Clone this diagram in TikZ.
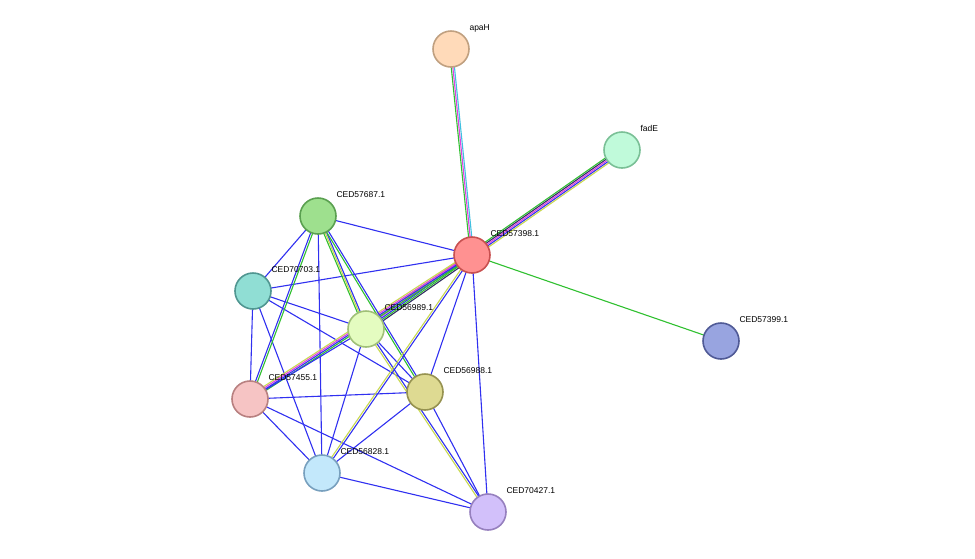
\documentclass[tikz,border=0pt]{standalone}
\usepackage{fontspec}
\setmainfont{Liberation Sans}
\usetikzlibrary{calc}
\definecolor{eb}{HTML}{3030F0}
\definecolor{eg}{HTML}{30C030}
\definecolor{ey}{HTML}{C8D850}
\definecolor{em}{HTML}{E040E0}
\definecolor{ec}{HTML}{40C0E0}
\definecolor{ek}{HTML}{303060}
\tikzset{prot/.style={circle,minimum size=36pt,inner sep=0pt,line width=1.6pt},
lab/.style={anchor=west,font=\fontsize{8.5}{10}\selectfont},
ed/.style={line width=1.1pt}}
\newcommand\medge[3]{\foreach \c/\o in {#3}{\draw[ed,\c] ($(#1)!\o pt!90:(#2)$) -- ($(#2)!\o pt!-90:(#1)$);}}
\begin{document}
\begin{tikzpicture}[x=1pt,y=-1pt]
\useasboundingbox (0,0) rectangle (975,558);
\coordinate (apaH) at (451,49);
\coordinate (fadE) at (622,150);
\coordinate (n687) at (318,216);
\coordinate (n398) at (472,255);
\coordinate (n703) at (253,291);
\coordinate (n989) at (366,329);
\coordinate (n399) at (721,341);
\coordinate (n455) at (250,399);
\coordinate (n988) at (425,392);
\coordinate (n828) at (322,473);
\coordinate (n427) at (488,512);
% blue edges
\foreach \a/\b in {n687/n398,n687/n703,n687/n828,n703/n398,n703/n989,n703/n988,n703/n455,n703/n828,n989/n828,n989/n988,n455/n988,n455/n828,n455/n427,n988/n828,n988/n427,n398/n988,n398/n427,n828/n427}
 \draw[ed,eb] (\a) -- (\b);
\medge{apaH}{n398}{eg/-1.6,em/0,ec/1.6}
\medge{fadE}{n398}{eg/-3,ek/-1.5,em/0,eb/1.5,ey/3}
\medge{n398}{n399}{eg/0}
\medge{n398}{n989}{ey/-3,em/-1.5,eb/0,eg/1.5,ek/3}
\medge{n398}{n455}{ey/-3,em/-1.5,eb/0,eg/1.5}
\medge{n687}{n989}{eg/-1.5,ey/0,eb/1.5}
\medge{n687}{n988}{eg/-1,eb/1}
\medge{n687}{n455}{eb/-1,eg/1}
\medge{n989}{n427}{ey/-1,eb/1}
\medge{n398}{n828}{ey/-1,eb/1}
\medge{n989}{n455}{eb/0}
% nodes
\node[prot,fill={rgb,255:red,255;green,218;blue,185},draw={rgb,255:red,192;green,160;blue,128}] (a) at (apaH) {};
\node[prot,fill={rgb,255:red,192;green,250;blue,218},draw={rgb,255:red,122;green,192;blue,150}] (b) at (fadE) {};
\node[prot,fill={rgb,255:red,158;green,224;blue,142},draw={rgb,255:red,90;green,160;blue,80}] (c) at (n687) {};
\node[prot,fill={rgb,255:red,255;green,145;blue,145},draw={rgb,255:red,200;green,80;blue,80}] (d) at (n398) {};
\node[prot,fill={rgb,255:red,144;green,222;blue,212},draw={rgb,255:red,80;green,150;blue,145}] (e) at (n703) {};
\node[prot,fill={rgb,255:red,228;green,252;blue,192},draw={rgb,255:red,160;green,192;blue,120}] (f) at (n989) {};
\node[prot,fill={rgb,255:red,152;green,164;blue,224},draw={rgb,255:red,80;green,90;blue,150}] (g) at (n399) {};
\node[prot,fill={rgb,255:red,246;green,196;blue,196},draw={rgb,255:red,184;green,128;blue,128}] (h) at (n455) {};
\node[prot,fill={rgb,255:red,222;green,218;blue,146},draw={rgb,255:red,150;green,146;blue,80}] (i) at (n988) {};
\node[prot,fill={rgb,255:red,195;green,232;blue,251},draw={rgb,255:red,120;green,160;blue,190}] (j) at (n828) {};
\node[prot,fill={rgb,255:red,210;green,192;blue,250},draw={rgb,255:red,150;green,128;blue,190}] (k) at (n427) {};
% labels
\node[lab] (la) at (466,28) {apaH};
\node[lab] (lb) at (637,128) {fadE};
\node[lab] (lc) at (333,195) {CED57687.1};
\node[lab] (ld) at (487,234) {CED57398.1};
\node[lab] (le) at (268,270) {CED70703.1};
\node[lab] (lf) at (381,308) {CED56989.1};
\node[lab] (lg) at (736,320) {CED57399.1};
\node[lab] (lh) at (265,378) {CED57455.1};
\node[lab] (li) at (440,371) {CED56988.1};
\node[lab] (lj) at (337,452) {CED56828.1};
\node[lab] (lk) at (503,491) {CED70427.1};
\end{tikzpicture}
\end{document}
